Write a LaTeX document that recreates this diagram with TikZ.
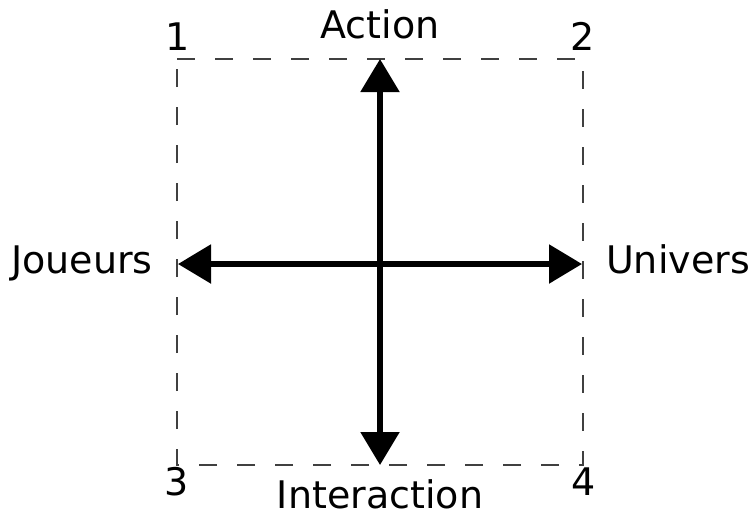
\documentclass[tikz,border=0pt]{standalone}
\usepackage{fontspec}
\setmainfont{DejaVu Sans}
\usetikzlibrary{arrows.meta}
\begin{document}
\begin{tikzpicture}[x=1pt,y=-1pt,
  lbl/.style={anchor=base,inner sep=0pt,font=\fontsize{38}{46}\selectfont},
  frame/.style={draw=black!75,line width=1.4pt,dash pattern=on 18pt off 20pt},
  axis/.style={line width=5.5pt,{Triangle[length=33pt,width=38pt]}-{Triangle[length=33pt,width=38pt]}}]
\useasboundingbox (0,0) rectangle (755,512);
\coordinate (c1) at (177,59);
\coordinate (c4) at (583,465);
\coordinate (top) at (380,59);
\coordinate (bot) at (380,465);
\coordinate (lft) at (178,264);
\coordinate (rgt) at (582,264);
\draw[frame] (c1) -- (583,59) -- (c4) -- (177,465) -- cycle;
\draw[axis] (top) -- (bot);
\draw[axis] (lft) -- (rgt);
\node[lbl] (action) at (380,38) {Action};
\node[lbl] (inter) at (380,508) {Interaction};
\node[lbl] (joueurs) at (82,273) {Joueurs};
\node[lbl] (univers) at (678,273) {Univers};
\node[lbl] (n1) at (178,50) {1};
\node[lbl] (n2) at (583,50) {2};
\node[lbl] (n3) at (177,495) {3};
\node[lbl] (n4) at (584,495) {4};
\end{tikzpicture}
\end{document}
